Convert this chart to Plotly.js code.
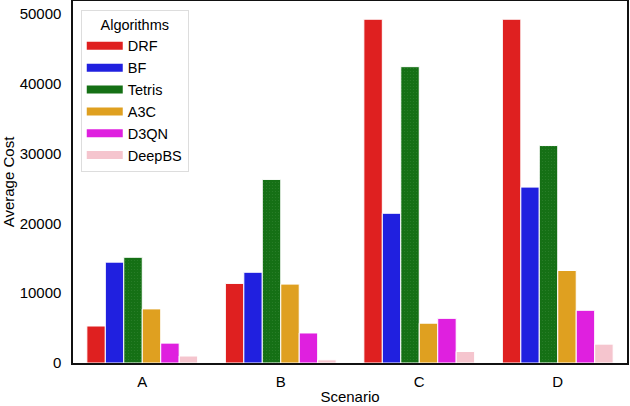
<!DOCTYPE html>
<html><head><meta charset="utf-8">
<script src="https://cdn.plot.ly/plotly-3.0.1.min.js"></script>
<style>html,body{margin:0;padding:0;background:#fff}</style>
</head><body><div id="chart" style="width:630px;height:406px"></div>
<script>
const scenarios = ["A", "B", "C", "D"];
const algorithms = ["DRF", "BF", "Tetris", "A3C", "D3QN", "DeepBS"];
const DRF = [5300, 11400, 49250, 49250];
const BF = [14450, 13000, 21450, 25200];
const Tetris = [15150, 26300, 42450, 31150];
const A3C = [7750, 11300, 5700, 13250];
const D3QN = [2850, 4300, 6400, 7550];
const DeepBS = [1000, 450, 1650, 2700];
const series = [DRF, BF, Tetris, A3C, D3QN, DeepBS];
const colors = ["#df2020", "#2020df", "#157015", "#dfa020", "#df20df", "#f5c5ce"];

const traces = algorithms.map((name, i) => {
  const t = {
    type: "bar", name: name, x: scenarios, y: series[i], showlegend: false,
    marker: {color: colors[i], line: {color: "#ffffff", width: 1}}
  };
  if (name === "Tetris") {
    t.marker.pattern = {shape: ".", fgcolor: "#2c802c", bgcolor: colors[i], size: 3, solidity: 0.1};
  }
  return t;
});
// legend swatches (wide rectangles, like the reference legend)
algorithms.forEach((name, i) => {
  traces.push({
    type: "scatter", mode: "lines", name: name, x: [null], y: [null],
    line: {color: colors[i], width: 8}, showlegend: true, hoverinfo: "skip"
  });
});

const layout = {
  width: 630, height: 406,
  margin: {l: 73, r: 3, t: 1, b: 43},
  paper_bgcolor: "#fff", plot_bgcolor: "#fff",
  font: {family: "Liberation Sans, Arial, sans-serif", size: 15, color: "#000"},
  barmode: "group", bargap: 0.2, bargroupgap: 0,
  xaxis: {
    title: {text: "Scenario", font: {size: 15}, standoff: 3},
    showline: true, linecolor: "#111", linewidth: 1.6, mirror: true,
    ticks: "outside", ticklen: 4, tickcolor: "rgba(0,0,0,0)", tickfont: {size: 15}
  },
  yaxis: {
    title: {text: "Average Cost", font: {size: 15}, standoff: 5},
    range: [0, 51860], tickvals: [0, 10000, 20000, 30000, 40000, 50000],
    ticktext: ["0", "10000", "20000", "30000", "40000", "50000"],
    showgrid: false, zeroline: false,
    showline: true, linecolor: "#111", linewidth: 1.6, mirror: true,
    ticks: "outside", ticklen: 7, tickcolor: "rgba(0,0,0,0)", tickfont: {size: 15}
  },
  legend: {
    title: {text: "Algorithms", font: {size: 14.5}, side: "top center"},
    x: 0.014, y: 0.975, xanchor: "left", yanchor: "top",
    bgcolor: "#fff", bordercolor: "#ddd", borderwidth: 1,
    font: {size: 14.5}, tracegroupgap: 0, itemwidth: 36
  },
  showlegend: true
};
Plotly.newPlot("chart", traces, layout, {displayModeBar: false, staticPlot: true});
</script></body></html>
